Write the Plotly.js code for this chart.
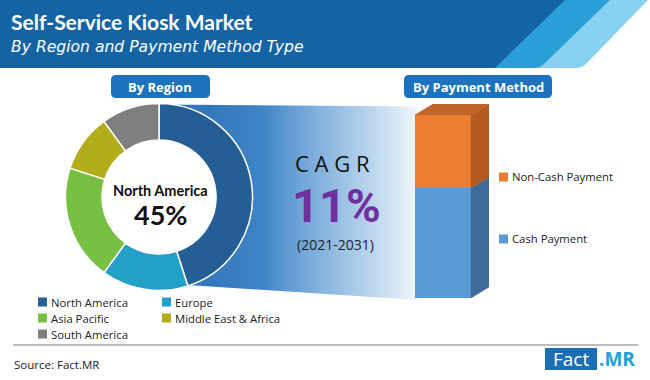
<!DOCTYPE html>
<html><head><meta charset="utf-8">
<script src="https://cdn.plot.ly/plotly-3.0.1.min.js"></script>
<style>html,body{margin:0;padding:0;background:#fff;}#chart{width:650px;height:380px;}</style>
</head><body><div id="chart"></div>
<script>
// ---- data ----
const regions = ['North America', 'Europe', 'Asia Pacific', 'Middle East & Africa', 'South America'];
const regionShares = [45, 15, 20, 10, 10];
const paymentMethods = ['Cash Payment', 'Non-Cash Payment'];
const paymentShares = [60, 40];
const cagrValue = 11;
const cagrPeriod = '(2021-2031)';
const chartTitle = 'Self-Service Kiosk Market';
const chartSubtitle = 'By Region and Payment Method Type';

// ---- style ----
const regionColors = ['#255e94', '#22a0c8', '#78c043', '#b3ad1c', '#7f7f7f'];
const payFront = ['#5b9bd5', '#ed7d31'];
const paySide = ['#3d6c98', '#b35b1f'];
const payTop = '#c2652a';
const W = 650, H = 380, ML = 40, MB = 40, MT = 0, MR = 0;
const PW = W - ML - MR, PH = H - MT - MB;
const PX = x => (x - ML) / PW;
const PY = y => (H - MB - y) / PH;
const FONT = 'Open Sans, Noto Sans, sans-serif';
const HFONT = 'Lato, Open Sans, sans-serif';

// geometry (pixels)
const donut = {cx: 159, cy: 197, r: 93.5};
const bar = {left: 415, right: 471, depthX: 18, depthY: 11, base: 298, top: 115};

function pathPx(pts) {
  return pts.map((p, i) => (p[0] === 'Q' ? 'Q' + PX(p[1]) + ',' + PY(p[2]) + ' ' + PX(p[3]) + ',' + PY(p[4])
    : (i === 0 ? 'M' : 'L') + PX(p[0]) + ',' + PY(p[1]))).join(' ') + ' Z';
}
function roundRect(x0, y0, x1, y1, r) {
  return pathPx([[x0 + r, y0], [x1 - r, y0], ['Q', x1, y0, x1, y0 + r], [x1, y1 - r], ['Q', x1, y1, x1 - r, y1],
    [x0 + r, y1], ['Q', x0, y1, x0, y1 - r], [x0, y0 + r], ['Q', x0, y0, x0 + r, y0]]);
}

const traces = [];

// funnel gradient (decoration): from the right edge of the lead slice to the bar
const totalShare = regionShares.reduce((a, b) => a + b, 0);
const leadAngle = regionShares[0] / totalShare * 2 * Math.PI;
const fx = [], fy = [];
for (let k = 0; k <= 40; k++) {
  const a = leadAngle * k / 40;
  fx.push(donut.cx + (donut.r - 1) * Math.sin(a));
  fy.push(donut.cy - (donut.r - 1) * Math.cos(a));
}
fx.push(bar.left + 2, bar.left + 2, fx[0]);
fy.push(bar.base + 2, donut.cy - donut.r + 3, fy[0]);
traces.push({
  type: 'scatter', mode: 'lines', xaxis: 'x', yaxis: 'y', x: fx, y: fy,
  fill: 'toself', line: {width: 0, color: 'rgba(0,0,0,0)'},
  fillgradient: {type: 'horizontal', colorscale: [[0, '#2a6db3'], [0.4, '#3f84c6'], [0.55, '#6fa5d8'], [0.86, '#c5dcf0'], [1, '#f0f6fc']]},
  hoverinfo: 'skip', showlegend: false
});

// donut
traces.push({
  type: 'pie', labels: regions, values: regionShares, sort: false, direction: 'clockwise', rotation: 0,
  hole: 0.61, textinfo: 'none', hoverinfo: 'label+percent',
  marker: {colors: regionColors, line: {color: '#ffffff', width: 1.5}},
  domain: {x: [PX(donut.cx - donut.r), PX(donut.cx + donut.r)], y: [PY(donut.cy + donut.r), PY(donut.cy - donut.r)]},
  showlegend: false
});

// stacked 3D bar
const dxU = (bar.depthX) / (bar.right - bar.left);
const total = paymentShares.reduce((a, b) => a + b, 0);
const dyU = bar.depthY * total / (bar.base - bar.top);
let base = 0;
paymentMethods.forEach((m, i) => {
  traces.push({
    type: 'bar', x: [0], y: [paymentShares[i]], name: m, width: 1, xaxis: 'x2', yaxis: 'y2',
    marker: {color: payFront[i], line: {width: 0}}, showlegend: false, hoverinfo: 'name+y'
  });
  const b = base, t = base + paymentShares[i];
  traces.push({
    type: 'scatter', mode: 'lines', xaxis: 'x2', yaxis: 'y2',
    x: [0.5, 0.5 + dxU, 0.5 + dxU, 0.5, 0.5], y: [b, b + dyU, t + dyU, t, b],
    fill: 'toself', fillcolor: paySide[i], line: {width: 0.5, color: paySide[i]},
    hoverinfo: 'skip', showlegend: false
  });
  base = t;
});
traces.push({
  type: 'scatter', mode: 'lines', xaxis: 'x2', yaxis: 'y2',
  x: [-0.5, -0.5 + dxU, 0.5 + dxU, 0.5, -0.5], y: [total, total + dyU, total + dyU, total, total],
  fill: 'toself', fillcolor: payTop, line: {width: 0.5, color: payTop},
  hoverinfo: 'skip', showlegend: false
});

const shapes = [
  // header stripes
  {type: 'path', xref: 'paper', yref: 'paper', layer: 'below', line: {width: 0}, fillcolor: '#86d2f0',
   path: pathPx([[0, 0], [648, 0], [588, 62], ['Q', 583, 68, 575, 68], [0, 68]])},
  {type: 'path', xref: 'paper', yref: 'paper', layer: 'below', line: {width: 0}, fillcolor: '#2b9fd8',
   path: pathPx([[0, 0], [610, 0], [546, 62], ['Q', 541, 68, 533, 68], [0, 68]])},
  {type: 'path', xref: 'paper', yref: 'paper', layer: 'below', line: {width: 0}, fillcolor: '#1464a5',
   path: pathPx([[0, 0], [565, 0], [495, 68], [0, 68]])},
  // tabs
  {type: 'path', xref: 'paper', yref: 'paper', layer: 'above', line: {width: 0}, fillcolor: '#1d72bd',
   path: roundRect(111, 75, 210, 98, 5)},
  {type: 'path', xref: 'paper', yref: 'paper', layer: 'above', line: {width: 0}, fillcolor: '#1d72bd',
   path: roundRect(404, 75, 552, 98, 5)},
  // separator
  {type: 'line', xref: 'paper', yref: 'paper', x0: PX(13), x1: PX(638), y0: PY(345), y1: PY(345),
   line: {color: '#7f7f7f', width: 1.2}},
  // logo box
  {type: 'rect', xref: 'paper', yref: 'paper', x0: PX(545), x1: PX(597), y0: PY(370), y1: PY(348),
   line: {width: 0}, fillcolor: '#1a6fb6'}
];

const ann = (x, y, text, size, color, extra) => Object.assign({
  xref: 'paper', yref: 'paper', x: PX(x), y: PY(y), text: text, showarrow: false,
  xanchor: 'center', yanchor: 'middle', font: {family: FONT, size: size, color: color}
}, extra || {});

const annotations = [
  ann(9, 21, '<b>' + chartTitle + '</b>', 21, '#ffffff', {xanchor: 'left', font: {family: HFONT, size: 21, color: '#fff'}}),
  ann(9, 47, '<i>' + chartSubtitle + '</i>', 15.6, '#ffffff', {xanchor: 'left', font: {family: 'DejaVu Sans, sans-serif', size: 15.6, color: '#fff'}}),
  ann(160, 87, '<b>By Region</b>', 13, '#ffffff'),
  ann(478, 87, '<b>By Payment Method</b>', 13, '#ffffff'),
  ann(donut.cx + 1, 190, '<b>' + regions[0] + '</b>', 14.5, '#111', {font: {family: HFONT, size: 14.5, color: '#111'}}),
  ann(donut.cx + 1, 214, '<b>' + regionShares[0] + '%</b>', 27, '#111', {font: {family: HFONT, size: 27, color: '#111'}}),
  ann(332, 163, 'C A G R', 22, '#111', {height: 22}),
  ann(336, 205, '<b>' + cagrValue + '%</b>', 47, '#7030a0', {height: 42, font: {family: 'Roboto, sans-serif', size: 47, color: '#7030a0'}}),
  ann(335, 244, cagrPeriod, 14, '#222'),
  ann(12, 364, 'Source: Fact.MR', 11.5, '#222', {xanchor: 'left'}),
  ann(571, 359, 'Fact', 19, '#ffffff'),
  ann(597, 359, '<b>.MR</b>', 19, '#1ba1dc', {xanchor: 'left'})
];

// legends (swatch + label), built from the category arrays
const legFont = 11.3;
regions.forEach((r, i) => {
  const col = i % 2, row = Math.floor(i / 2);
  const x0 = 38 + col * 124, yc = 302 + row * 16;
  shapes.push({type: 'rect', xref: 'paper', yref: 'paper', x0: PX(x0), x1: PX(x0 + 9), y0: PY(yc + 4.5), y1: PY(yc - 4.5),
    line: {width: 0}, fillcolor: regionColors[i]});
  annotations.push(ann(x0 + 11, yc, r, legFont, '#222', {xanchor: 'left'}));
});
const payLegY = [239, 177];
paymentMethods.forEach((m, i) => {
  const yc = payLegY[i];
  shapes.push({type: 'rect', xref: 'paper', yref: 'paper', x0: PX(499), x1: PX(508), y0: PY(yc + 4.5), y1: PY(yc - 4.5),
    line: {width: 0}, fillcolor: payFront[i]});
  annotations.push(ann(510, yc, m, legFont, '#222', {xanchor: 'left'}));
});

const layout = {
  width: W, height: H, margin: {l: ML, r: MR, t: MT, b: MB, pad: 0, autoexpand: false},
  paper_bgcolor: '#ffffff', plot_bgcolor: 'rgba(0,0,0,0)',
  xaxis: {domain: [0, 1], range: [ML, W - MR], visible: false, fixedrange: true},
  yaxis: {domain: [0, 1], range: [H - MB, MT], visible: false, fixedrange: true},
  xaxis2: {domain: [PX(bar.left), PX(bar.right + bar.depthX)], range: [-0.5, 0.5 + dxU], visible: false, fixedrange: true},
  yaxis2: {domain: [PY(bar.base), PY(bar.top - bar.depthY)], range: [0, total + dyU], visible: false, fixedrange: true},
  barmode: 'stack', bargap: 0,
  showlegend: false,
  shapes: shapes, annotations: annotations
};

Plotly.newPlot('chart', traces, layout, {staticPlot: true, displayModeBar: false});
</script>
</body></html>
